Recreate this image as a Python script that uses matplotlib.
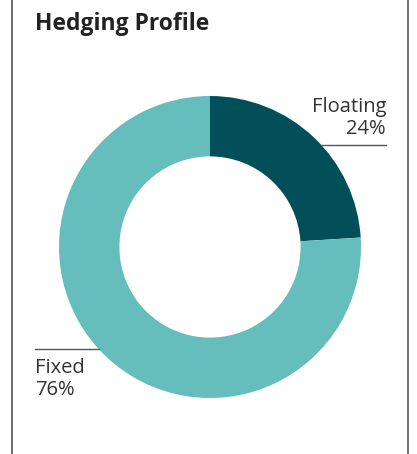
import matplotlib
matplotlib.use("Agg")
import matplotlib.pyplot as plt
from matplotlib.lines import Line2D
import numpy as np

labels = ["Floating", "Fixed"]
shares = [24, 76]
colors = ["#034f59", "#65bebb"]

W, H = 417, 454
fig = plt.figure(figsize=(W / 100, H / 100), dpi=100)
fig.patch.set_facecolor("white")

# panel side rules
for px in (12, 408):
    fig.add_artist(Line2D([px / W, px / W], [0, 1], color="#555555", lw=1.2))

fig.text(35 / W, 1 - 24 / H, "Hedging Profile", fontsize=16.5, fontweight="bold",
         family="Open Sans", color="#222222", ha="left", va="center")

# donut: centre (210, 247) px, outer radius 151 px
cx, cy, R = 210, 247, 151
ax = fig.add_axes([(cx - R) / W, (H - cy - R) / H, 2 * R / W, 2 * R / H])
ax.pie(shares, colors=colors, startangle=90, counterclock=False, radius=1,
       wedgeprops=dict(width=0.4, edgecolor="none"))
ax.set_xlim(-1, 1)
ax.set_ylim(-1, 1)
ax.set_aspect("equal")
ax.axis("off")

ly = 0.675
edge = np.sqrt(1 - ly ** 2)
txt = dict(fontsize=14.5, family="Open Sans", color="#333333",
           clip_on=False, linespacing=1.12)

ax.plot([edge, 1.166], [ly, ly], color="#555555", lw=1.0, clip_on=False)
ax.text(1.166, ly + 0.04, f"{labels[0]}\n{shares[0]}%", ha="right", va="bottom",
        multialignment="right", **txt)

ax.plot([-edge, -1.159], [-ly, -ly], color="#555555", lw=1.0, clip_on=False)
ax.text(-1.159, -ly - 0.06, f"{labels[1]}\n{shares[1]}%", ha="left", va="top",
        multialignment="left", **txt)

fig.savefig("out.png", dpi=100, facecolor="white")
